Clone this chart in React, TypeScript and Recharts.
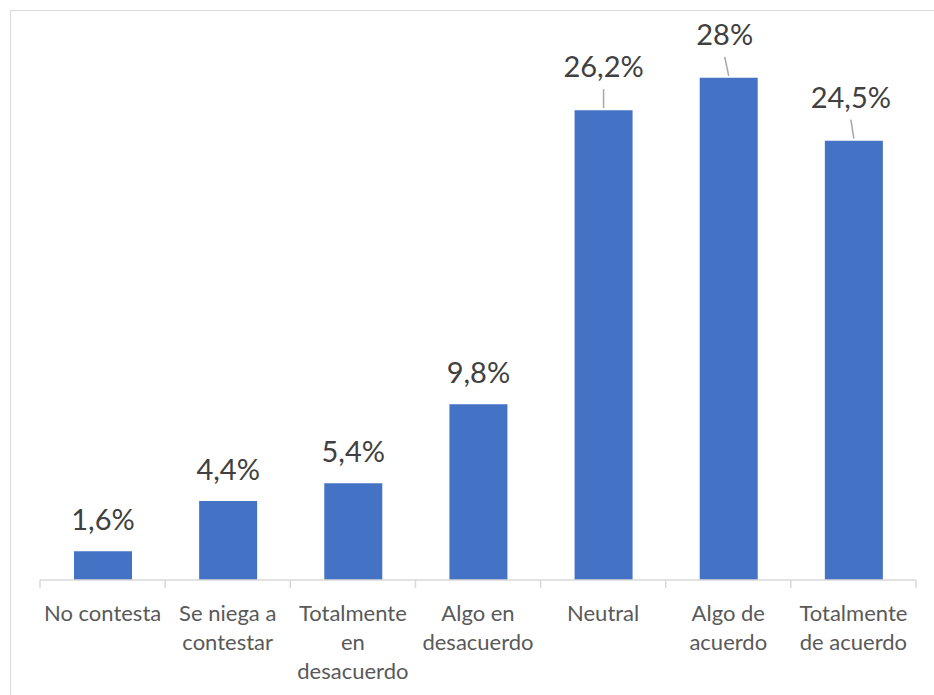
import { Bar, BarChart, LabelList, XAxis, YAxis } from "recharts";

// Respuestas (en %) por categoría
const CATEGORIES = [
  "No contesta",
  "Se niega a\ncontestar",
  "Totalmente\nen\ndesacuerdo",
  "Algo en\ndesacuerdo",
  "Neutral",
  "Algo de\nacuerdo",
  "Totalmente\nde acuerdo",
];
const PERCENTS = [1.6, 4.4, 5.4, 9.8, 26.2, 28, 24.5];
const Y_DOMAIN = [0, 30];

const data = CATEGORIES.map((name, i) => ({ name, value: PERCENTS[i] }));

const W = 934;
const H = 695;
const MARGIN = { top: 42, right: 18, bottom: 15, left: 40 };
const X_AXIS_HEIGHT = 100;
const AXIS_Y = H - MARGIN.bottom - X_AXIS_HEIGHT;
const BAND = (W - MARGIN.left - MARGIN.right) / CATEGORIES.length;

const BAR_COLOR = "#4472C4";
const GRID_GRAY = "#d9d9d9";
const FONT = "Lato, 'Open Sans', sans-serif";

// etiquetas desplazadas hacia arriba con línea guía (dx = desplazamiento del texto)
const LEADER: Record<string, number> = {
  Neutral: 0,
  "Algo de\nacuerdo": -4,
  "Totalmente\nde acuerdo": -3,
};

const fmt = (v: number) => `${String(v).replace(".", ",")}%`;

function CategoryTick(props: any) {
  const { x, payload, index } = props;
  const lines = String(payload.value).split("\n");
  const isLast = index === CATEGORIES.length - 1;
  return (
    <g>
      <line x1={x - BAND / 2} x2={x - BAND / 2} y1={AXIS_Y} y2={AXIS_Y + 8} stroke={GRID_GRAY} strokeWidth={1.5} />
      {isLast && (
        <line x1={x + BAND / 2} x2={x + BAND / 2} y1={AXIS_Y} y2={AXIS_Y + 8} stroke={GRID_GRAY} strokeWidth={1.5} />
      )}
      <text textAnchor="middle" fill="#595959" fontFamily={FONT} fontSize={22}>
        {lines.map((l, i) => (
          <tspan key={i} x={x} y={AXIS_Y + 41 + i * 29}>
            {l}
          </tspan>
        ))}
      </text>
    </g>
  );
}

function ValueLabel(props: any) {
  const { x, y, width, value, index } = props;
  const cx = x + width / 2;
  const dx = LEADER[CATEGORIES[index]];
  if (dx === undefined) {
    return (
      <text x={cx} y={y - 21} textAnchor="middle" fill="#404040" fontFamily={FONT} fontSize={29}>
        {fmt(value)}
      </text>
    );
  }
  return (
    <g>
      <line x1={cx + dx} y1={y - 21} x2={cx} y2={y - 2} stroke="#a6a6a6" strokeWidth={1.5} />
      <text x={cx + dx} y={y - 33} textAnchor="middle" fill="#404040" fontFamily={FONT} fontSize={29}>
        {fmt(value)}
      </text>
    </g>
  );
}

export default function App() {
  return (
    <div style={{ position: "fixed", left: 0, top: 0, width: W, height: H, background: "#fff", overflow: "hidden" }}>
      <div
        style={{
          position: "absolute",
          left: 10,
          top: 10,
          width: W,
          height: H,
          border: `1.5px solid ${GRID_GRAY}`,
          boxSizing: "border-box",
        }}
      />
      <div style={{ position: "absolute", left: 0, top: 0 }}>
        <BarChart width={W} height={H} data={data} margin={MARGIN}>
          <XAxis
            dataKey="name"
            height={X_AXIS_HEIGHT}
            interval={0}
            tickLine={false}
            axisLine={{ stroke: GRID_GRAY, strokeWidth: 1.5 }}
            tick={<CategoryTick />}
          />
          <YAxis hide domain={Y_DOMAIN} />
          <Bar dataKey="value" fill={BAR_COLOR} barSize={58} isAnimationActive={false}>
            <LabelList dataKey="value" content={<ValueLabel />} />
          </Bar>
        </BarChart>
      </div>
    </div>
  );
}
